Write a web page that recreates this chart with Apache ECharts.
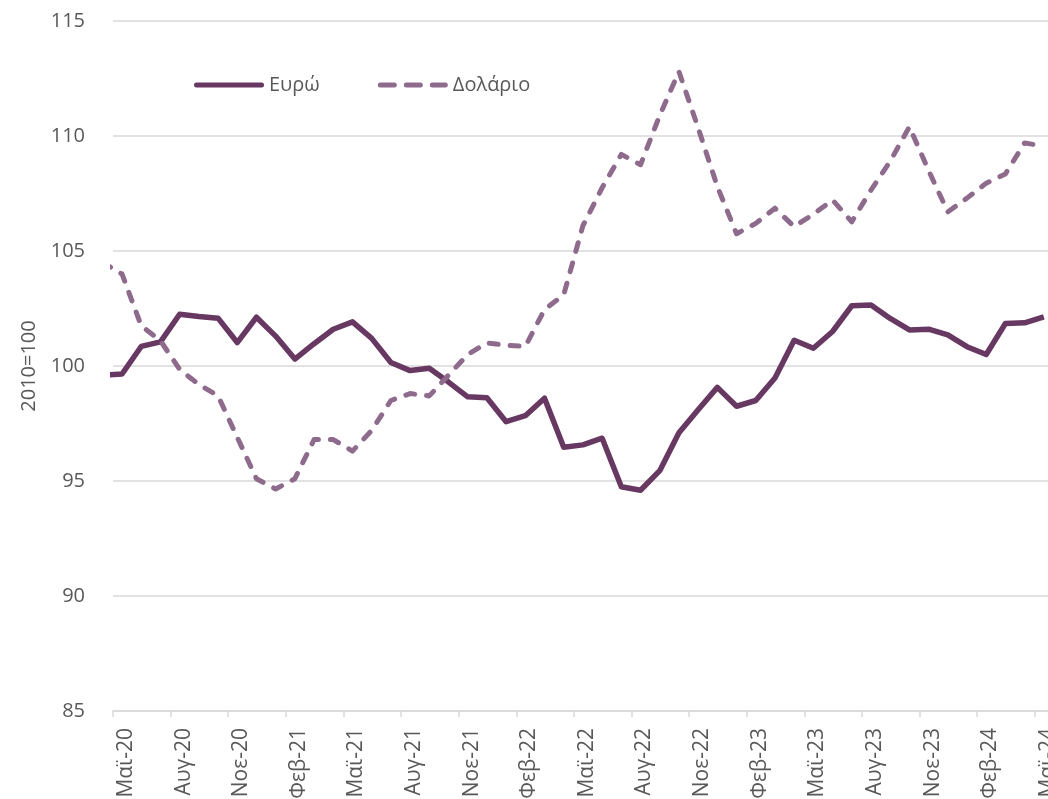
<!DOCTYPE html>
<html>
<head>
<meta charset="utf-8">
<script src="https://cdn.jsdelivr.net/npm/echarts@6/dist/echarts.min.js"></script>
<style>
  html, body { margin: 0; padding: 0; background: #fff; }
  #chart { width: 1048px; height: 799px; }
</style>
</head>
<body>
<div id="chart"></div>
<script>
// μήνες, από Απρ-20 έως Μαϊ-24 (ο πρώτος κόβεται από τον άξονα)
const months = [
  'Απρ-20', 'Μαϊ-20', 'Ιουν-20', 'Ιουλ-20', 'Αυγ-20', 'Σεπ-20', 'Οκτ-20', 'Νοε-20', 'Δεκ-20',
  'Ιαν-21', 'Φεβ-21', 'Μαρ-21', 'Απρ-21', 'Μαϊ-21', 'Ιουν-21', 'Ιουλ-21', 'Αυγ-21', 'Σεπ-21', 'Οκτ-21', 'Νοε-21', 'Δεκ-21',
  'Ιαν-22', 'Φεβ-22', 'Μαρ-22', 'Απρ-22', 'Μαϊ-22', 'Ιουν-22', 'Ιουλ-22', 'Αυγ-22', 'Σεπ-22', 'Οκτ-22', 'Νοε-22', 'Δεκ-22',
  'Ιαν-23', 'Φεβ-23', 'Μαρ-23', 'Απρ-23', 'Μαϊ-23', 'Ιουν-23', 'Ιουλ-23', 'Αυγ-23', 'Σεπ-23', 'Οκτ-23', 'Νοε-23', 'Δεκ-23',
  'Ιαν-24', 'Φεβ-24', 'Μαρ-24', 'Απρ-24', 'Μαϊ-24'
];

const euro = [
  99.6, 99.65, 100.85, 101.05, 102.25, 102.15, 102.08, 101.02, 102.12,
  101.3, 100.3, 100.97, 101.6, 101.92, 101.2, 100.15, 99.8, 99.9, 99.3, 98.66, 98.62,
  97.58, 97.84, 98.6, 96.47, 96.57, 96.86, 94.75, 94.6, 95.45, 97.1, 98.1, 99.07,
  98.25, 98.5, 99.48, 101.12, 100.77, 101.5, 102.62, 102.65, 102.07, 101.57, 101.6, 101.35,
  100.84, 100.5, 101.85, 101.88, 102.14
];

const dollar = [
  104.5, 104.0, 101.75, 101.1, 99.85, 99.2, 98.7, 96.9, 95.1,
  94.65, 95.1, 96.8, 96.8, 96.3, 97.2, 98.5, 98.8, 98.7, 99.6, 100.5, 101.0,
  100.9, 100.85, 102.45, 103.1, 106.1, 107.75, 109.2, 108.75, 110.9, 112.8, 110.35, 107.8,
  105.75, 106.2, 106.86, 106.06, 106.6, 107.22, 106.27, 107.65, 108.9, 110.4, 108.5, 106.7,
  107.3, 107.95, 108.35, 109.7, 109.55
];

const seriesNames = ['Ευρώ', 'Δολάριο'];
const yTicks = { min: 85, max: 115, step: 5 };

// οι τιμές είναι στα μέσα του μήνα, οι γραμμές του άξονα στην αρχή του
const midMonth = 0.47;
function toPoints(values) {
  return values.map((v, i) => [i - 1 + midMonth, v]);
}

// εικονίδια υπομνήματος: συνεχής γραμμή και τρεις παύλες
const solidIcon = 'path://M2.5,0 H67.5 A2.5,2.5 0 0 1 67.5,5 H2.5 A2.5,2.5 0 0 1 2.5,0 Z';
const dashIcon = 'path://M2.5,0 H16.5 A2.5,2.5 0 0 1 16.5,5 H2.5 A2.5,2.5 0 0 1 2.5,0 Z' +
  ' M28.5,0 H42.5 A2.5,2.5 0 0 1 42.5,5 H28.5 A2.5,2.5 0 0 1 28.5,0 Z' +
  ' M54.5,0 H67.5 A2.5,2.5 0 0 1 67.5,5 H54.5 A2.5,2.5 0 0 1 54.5,0 Z';

const chart = echarts.init(document.getElementById('chart'));
const font = "'Open Sans', 'Noto Sans', sans-serif";
const grey = '#595959';

chart.setOption({
  animation: false,
  textStyle: { fontFamily: font },
  grid: { left: 113, top: 21, height: 690, width: 941, outerBoundsMode: 'none', containLabel: false },
  legend: {
    left: 189,
    top: 70,
    itemWidth: 70,
    itemHeight: 5,
    itemGap: 58,
    textStyle: { fontSize: 20, color: grey, fontFamily: font },
    data: [
      { name: seriesNames[0], icon: solidIcon },
      { name: seriesNames[1], icon: dashIcon }
    ]
  },
  xAxis: {
    type: 'value',
    min: 0,
    max: months.length - 1,
    interval: 3,
    splitLine: { show: false },
    axisLine: { show: true, lineStyle: { color: '#d9d9d9', width: 1.5 } },
    axisTick: { show: true, length: 6, lineStyle: { color: '#d9d9d9', width: 1.5 } },
    axisLabel: {
      rotate: 90,
      margin: 17,
      verticalAlign: 'top',
      lineHeight: 26,
      fontSize: 21,
      color: grey,
      showMaxLabel: false,
      formatter: v => months[v + 1] || ''
    }
  },
  yAxis: {
    type: 'value',
    min: yTicks.min,
    max: yTicks.max,
    interval: yTicks.step,
    name: '2010=100',
    nameLocation: 'middle',
    nameRotate: 90,
    nameGap: 74,
    nameTextStyle: { fontSize: 20, color: grey },
    axisLine: { show: false },
    axisTick: { show: false },
    axisLabel: { fontSize: 20, color: grey, margin: 28 },
    splitLine: { lineStyle: { color: '#d9d9d9', width: 1.5 } }
  },
  series: [
    {
      name: seriesNames[0],
      type: 'line',
      data: toPoints(euro),
      symbol: 'none',
      clip: true,
      lineStyle: { color: '#673862', width: 5.5, join: 'round' },
      itemStyle: { color: '#673862' }
    },
    {
      name: seriesNames[1],
      type: 'line',
      data: toPoints(dollar),
      symbol: 'none',
      clip: true,
      lineStyle: { color: '#8e6b8c', width: 5, type: [9, 12], cap: 'round', join: 'round' },
      itemStyle: { color: '#8e6b8c' }
    }
  ]
});
</script>
</body>
</html>
